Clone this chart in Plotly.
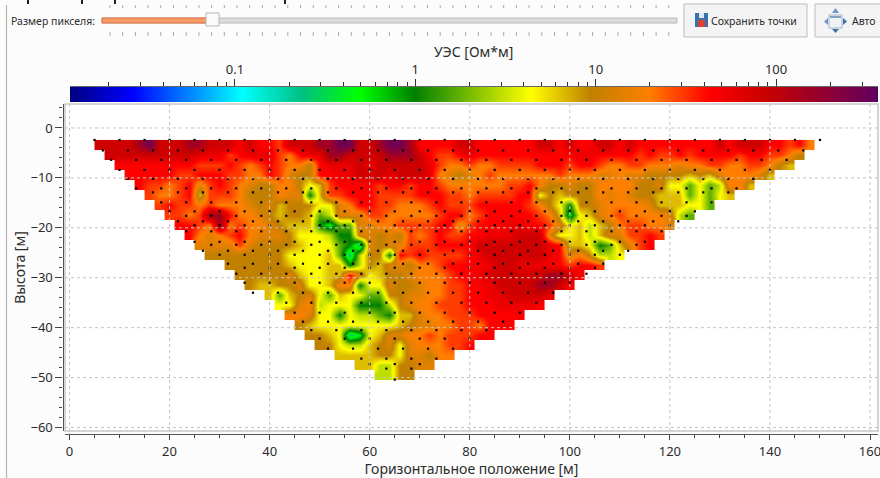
import numpy as np
import plotly.graph_objects as go

W, H = 880, 478
FONT = "Noto Sans"
INK = "#2b2b2b"

# resistivity classes, ohm*m
levels = {"P": 300, "D": 150, "R": 80, "m": 55, "r": 43, "o": 30, "O": 20, "a": 14, "b": 9.5,
          "y": 6.5, "Y": 4.4, "l": 3, "g": 1.7, "G": 1, "L": 0.5, "T": 0.24, "C": 0.11}

# one string per 2 m depth row; each group is ten 2 m columns, starting at x = 5 m
section_rows = [
    "RRRRDPRRRD DRRRrRrroR RRDDPPRRDP PDrrrrRRrr rrrrRRrRrr RRrRrrrrrr rrRrRRRrro rO",
    ".RRRRRRRRR mmmormmmoO rmmDDRRRRD DDRroormrr rrrrrrrrmm rrrrorooro rrrrorrooO b",
    "..rrrrrrrr oooroOoroO ObrmmmRmRR RRRmoOOoOO oooorrrorr oOOooOOOaO OooOOooOby",
    "...rrrrroo rrrooOOroa bbrrmmRRRm RRRmOabaOo OOOOOOoOOO aaOaabbbby byaOOOay",
    "....rooOor aoroOabbOO bYyorrrror rorroOOOOO OoorObbabb OOOObbaYYg YglOOy",
    ".....oOOor yoooObbbOa aGyoorrroo oorrrooOoo oorrYbybbb OaOabbyyyg YgYy",
    "......oroo OoOOOabayb bbYYaOrroo OOOorooorr rrroObYGbb aOOOOayyyY Yg",
    ".......ooO oDDrOOabyb byglaaaooO OOOOorrOor rrrroOyLYy aOoOOOOalg",
    "........rr oODOoOOaby yyGLggaaOO oooorraorr rmmrroaYyl ybOooOOa",
    ".........r OaOorOaaab YYYlGGaaba boOoroorrm mmRRRaYYyl yaaooro",
    ".......... aaaaoabbbb yYYYgGTaba aooorrrrRR RRRRRmryyY Ggyaor",
    ".......... .bbbbbbbbY YYYygTlbbG roroooormR RRRRRmraOb llY",
    ".......... ...bbbbbby YYYyyGlbya abOOorrrrm RRmmmrrorr o",
    ".......... ....bbbbba yYYyyraYyb baOOOorrmR RRRRRDDRr",
    ".......... .....byybb aYYyOOGYYa bbaOOoorrm RRRRDDRr",
    ".......... .......ygy baYgyYYggb baaOOoorrm mRRRRm",
    ".......... ........YY aOlYYYGGGl baOOooorrr mmmmr",
    ".......... .........O OaYYGYllgG yyaOOooorr rrr",
    ".......... .......... byYYYYYYYY ybaaOOooOr rr",
    ".......... .......... .bbyYTLYya aOOoOooorr",
    ".......... .......... ..bbYllyba YaOOOoor",
    ".......... .......... ....yyyybb YaabOO",
    ".......... .......... ......yyll bbaa",
    ".......... .......... ........ll bb",
]

# measurement-point rows: depth, first and last horizontal position (5 m apart)
dot_depth = [-2.4, -4.5, -6.4, -8.4, -10.2, -12.1, -12.9, -14.9, -16.7, -17.6, -18.7, -19.5, -20.7, -22.8, -23.4,
             -24.6, -25.4, -27.2, -28, -29.2, -31, -33, -35, -37, -38.8, -40.5, -42.2, -44.2, -46.2, -47.3, -48.2, -50.4]
dot_first = [5, 6.67, 8.33, 10, 11.67, 13.33, 16.67, 18.33, 20, 23.33, 21.67, 25, 23.33, 25, 28.33,
             26.67, 30, 31.67, 35, 33.33, 35, 36.67, 43.33, 45, 46.67, 48.33, 50, 51.67, 58.33, 60, 63.33, 65]
dot_last = [150, 146.67, 143.33, 140, 136.67, 133.33, 131.67, 128.33, 125, 123.33, 121.67, 120, 118.33, 115, 113.33,
            111.67, 110, 106.67, 105, 103.33, 100, 96.67, 93.33, 90, 86.67, 83.33, 80, 76.67, 73.33, 70, 68.33, 65]

cmin, cmax = -1.914, 2.565
stops = [(-1.914, "#000080"), (-1.568, "#0000ff"), (-0.96, "#00ffff"), (-0.626, "#00c080"), (-0.31, "#00ff00"),
         (0, "#008000"), (0.64, "#ffff00"), (0.975, "#c08000"), (1.296, "#ff8000"), (1.63, "#ff0000"),
         (1.945, "#c80000"), (2.565, "#600060")]
colorscale = [[(v - cmin) / (cmax - cmin), c] for v, c in stops]


def decode(row):
    groups = row.split()
    s = "".join(g.ljust(10, g[-1]) for g in groups[:-1]) + groups[-1]
    s = s.ljust(73, ".")[:73]
    return [None if c == "." else float(np.log10(levels[c])) for c in s]


z = [decode(r) for r in section_rows]
x_centres = [6 + 2 * j for j in range(73)]
y_centres = [-3.4 - 2 * i for i in range(len(z))]

dx, dy = [], []
for d, a, b in zip(dot_depth, dot_first, dot_last):
    for v in np.arange(a, b + 0.1, 5):
        dx.append(float(v))
        dy.append(d)

fig = go.Figure()
fig.add_trace(go.Heatmap(x=x_centres, y=y_centres, z=z, coloraxis="coloraxis", hoverongaps=False, zsmooth="best"))
fig.add_trace(go.Scatter(x=dx, y=dy, mode="markers", cliponaxis=False,
                         marker=dict(symbol="square", size=2.2, color="#000000"), showlegend=False))

bar_x = [float(v) for v in np.linspace(cmin, cmax, 400)]
fig.add_trace(go.Heatmap(x=bar_x, y=[0], z=[bar_x], coloraxis="coloraxis", xaxis="x2", yaxis="y2", hoverinfo="skip"))


def PX(p):
    return p / W


def PY(p):
    return 1 - p / H


shapes = []


def rect(x0, y0, x1, y1, fill, line=None, lw=1, layer="above"):
    shapes.append(dict(type="rect", xref="paper", yref="paper", x0=PX(x0), x1=PX(x1), y0=PY(y0), y1=PY(y1),
                       fillcolor=fill, line=dict(color=line or fill, width=lw if line else 0), layer=layer))


def seg(x0, y0, x1, y1, color, lw=1, layer="above"):
    shapes.append(dict(type="line", xref="paper", yref="paper", x0=PX(x0), x1=PX(x1), y0=PY(y0), y1=PY(y1),
                       line=dict(color=color, width=lw), layer=layer))


def tri(points, color):
    d = "M " + " L ".join(f"{PX(a):.5f},{PY(b):.5f}" for a, b in points) + " Z"
    shapes.append(dict(type="path", xref="paper", yref="paper", path=d, fillcolor=color, line=dict(width=0)))


# plot frame and grid above the section
rect(65, 104, 878, 431, "#ffffff", "#c8c8c8", 1.5, "below")
for v in range(0, 161, 20):
    shapes.append(dict(type="line", xref="x", yref="paper", x0=v, x1=v, y0=PY(431), y1=PY(104),
                       line=dict(color="#c4c4c4", width=1, dash="dot"), layer="above"))
for v in range(-60, 1, 10):
    shapes.append(dict(type="line", xref="paper", yref="y", x0=PX(65), x1=PX(878), y0=v, y1=v,
                       line=dict(color="#c4c4c4", width=1, dash="dot"), layer="above"))

# application chrome
seg(6.5, 5, 6.5, 478, "#b4b4b4", 1.2)
rect(102, 18, 677, 23, "#dcdcdc", "#b9b9b9", 1)
rect(102, 18, 208, 23, "#f89a66", "#d9733e", 1)
rect(206, 13, 219, 26, "#fbfbfb", "#b5b5b5", 1)
for p in np.arange(110, 675, 12.7):
    seg(p, 5, p, 8, "#a8a8a8", 1)
    seg(p, 32, p, 36, "#a8a8a8", 1)
for p in (28, 82, 115, 285):
    seg(p, 0, p, 4, "#222222", 2)
rect(684, 4, 807, 37, "#f4f4f4", "#bdbdbd", 1)
rect(815, 4, 884, 37, "#f4f4f4", "#bdbdbd", 1)
rect(695, 13, 708, 27, "#3a6fb0")
rect(698, 20, 705, 27, "#d9432f")
rect(699, 13, 704, 18, "#dfe8f2")
rect(829, 15, 842, 28, "#f0f2f6", "#9db4cf", 1)
seg(830, 17, 841, 17, "#5b85b5", 1.5)
tri([(835.5, 8), (832, 13), (839, 13)], "#6f97c6")
tri([(835.5, 33), (832, 29), (839, 29)], "#3e6fa8")
tri([(824, 21.5), (828, 18), (828, 25)], "#6f97c6")
tri([(847, 21.5), (843, 18), (843, 25)], "#3e6fa8")


def label(text, px, py, size=10.5, anchor="left", tfont=None):
    return dict(text=text, xref="paper", yref="paper", x=PX(px), y=PY(py), xanchor=anchor, yanchor="middle",
                showarrow=False, font=tfont or dict(family=FONT, size=size, color=INK))


axis_font = dict(family=FONT, size=13, color=INK)
title_font = dict(family=FONT, size=14, color=INK)

annotations = [
    label("Размер пикселя:", 9, 21),
    label("Сохранить точки", 709, 21),
    label("Авто", 850, 21),
    label("УЭС [Ом*м]", 473, 52, anchor="center", tfont=title_font),
]

minor_bar = [float(np.log10(k * 10.0 ** e)) for e in range(-2, 3) for k in range(2, 10)
             if cmin <= np.log10(k * 10.0 ** e) <= cmax]

fig.update_layout(
    width=W, height=H, autosize=False, margin=dict(l=0, r=0, t=0, b=0, autoexpand=False),
    paper_bgcolor="#fcfcfc", plot_bgcolor="rgba(0,0,0,0)", showlegend=False,
    coloraxis=dict(cmin=cmin, cmax=cmax, colorscale=colorscale, showscale=False),
    font=axis_font,
    shapes=shapes, annotations=annotations,
    xaxis=dict(domain=[PX(65), PX(878)], range=[-0.9, 161.6], anchor="free", position=PY(434), automargin=False,
               tickmode="array", tickvals=list(range(0, 161, 20)), ticks="outside", ticklen=5, tickcolor="#444",
               ticklabeloverflow="allow",
               minor=dict(tickvals=list(range(0, 161, 5)), ticks="outside", ticklen=3, tickcolor="#444"),
               showline=True, linecolor="#555", linewidth=1.2, showgrid=False, zeroline=False,
               title=dict(text="Горизонтальное положение [м]", font=title_font, standoff=6)),
    yaxis=dict(domain=[PY(431), PY(104)], range=[-60.7, 4.8], anchor="free", position=PX(62.5), automargin=False,
               tickmode="array", tickvals=list(range(-60, 1, 10)), ticks="outside", ticklen=7, tickcolor="#444",
               minor=dict(tickvals=list(range(-60, 5, 2)), ticks="outside", ticklen=3, tickcolor="#444"),
               showline=True, linecolor="#555", linewidth=1.2, showgrid=False, zeroline=False,
               title=dict(text="Высота [м]", font=title_font, standoff=0)),
    xaxis2=dict(domain=[PX(70), PX(878)], range=[cmin, cmax], anchor="y2", side="top", automargin=False,
                tickmode="array", tickvals=[-1, 0, 1, 2], ticktext=["0.1", "1", "10", "100"],
                ticks="outside", ticklen=7, tickcolor="#333",
                minor=dict(tickvals=minor_bar, ticks="outside", ticklen=4, tickcolor="#333"),
                showline=True, linecolor="#666", linewidth=1, showgrid=False, zeroline=False),
    yaxis2=dict(domain=[PY(102), PY(87)], anchor="x2", visible=False, range=[-0.5, 0.5]),
)

fig.write_html("out.html", post_script="document.body.style.margin='0';document.body.style.overflow='hidden';",
               config={"displayModeBar": False})
